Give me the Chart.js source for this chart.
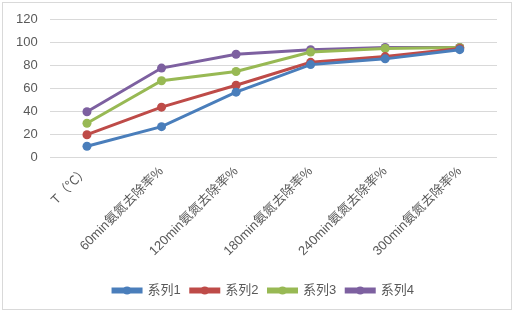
<!DOCTYPE html>
<html>
<head>
<meta charset="utf-8">
<script src="https://cdn.jsdelivr.net/npm/chart.js@4"></script>
<style>
  html, body { margin:0; padding:0; background:#fff; }
  .wrap { position:relative; width:516px; height:314px; }
  .frame { position:absolute; left:2px; top:2px; width:508px; height:306px; border:1px solid #d9d9d9; pointer-events:none; }
  canvas { position:absolute; left:0; top:0; }
</style>
</head>
<body>
<div class="wrap">
  <canvas id="chart" width="516" height="314"></canvas>
  <div class="frame"></div>
</div>
<script>
const categories = ['T（℃）','60min氨氮去除率%','120min氨氮去除率%','180min氨氮去除率%','240min氨氮去除率%','300min氨氮去除率%'];
const series1 = [10, 27, 57, 81, 86, 94];
const series2 = [20, 44, 63, 83, 88, 95];
const series3 = [30, 67, 75, 92, 95, 96];
const series4 = [40, 78, 90, 94, 96, 96];
const seriesNames = ['系列1','系列2','系列3','系列4'];
const colors = ['#4a7ebb','#be4b48','#98b954','#7d60a0'];

const fontFamily = '"Liberation Sans", "Noto Sans CJK SC", sans-serif';

function makeSet(i, data){
  return {
    label: seriesNames[i],
    data: data,
    borderColor: colors[i],
    backgroundColor: colors[i],
    borderWidth: 3,
    pointRadius: 4.5,
    pointHoverRadius: 4.5,
    pointBorderWidth: 0,
    tension: 0
  };
}

// nudge the legend a bit to the right, centred under the whole frame
const legendShift = {
  id: 'legendShift',
  afterLayout(chart){
    const lg = chart.legend;
    if(!lg) return;
    lg.left += 13;
    lg.right += 13;
  }
};

// draws a dot on top of the thin legend bar, like Excel's line+marker legend
const legendDots = {
  id: 'legendDots',
  afterDraw(chart){
    const lg = chart.legend;
    if(!lg || !lg.legendHitBoxes) return;
    const ctx = chart.ctx;
    const bw = chart.options.plugins.legend.labels.boxWidth;
    lg.legendHitBoxes.forEach((box, i) => {
      ctx.save();
      ctx.fillStyle = colors[i];
      ctx.beginPath();
      ctx.arc(box.left + bw / 2, box.top + box.height / 2, 4, 0, Math.PI * 2);
      ctx.fill();
      ctx.restore();
    });
  }
};

new Chart(document.getElementById('chart'), {
  type: 'line',
  data: {
    labels: categories,
    datasets: [makeSet(0, series1), makeSet(1, series2), makeSet(2, series3), makeSet(3, series4)]
  },
  options: {
    responsive: false,
    animation: false,
    layout: { padding: { left: 4, right: 19, top: 10, bottom: 7 } },
    plugins: {
      tooltip: { enabled: false },
      legend: {
        position: 'bottom',
        labels: {
          boxWidth: 28,
          boxHeight: 3,
          padding: 10,
          color: '#595959',
          font: { family: fontFamily, size: 13 }
        }
      }
    },
    scales: {
      x: {
        offset: true,
        grid: { display: false, drawTicks: false },
        border: { display: false },
        afterFit(scale){
          // rotated first label should not push the plot to the right
          scale.paddingLeft = 0;
          scale.paddingRight = 0;
          scale.height += 9;
        },
        ticks: {
          color: '#595959',
          minRotation: 45,
          maxRotation: 45,
          padding: 6,
          font: { family: fontFamily, size: 13 }
        }
      },
      y: {
        min: 0,
        max: 120,
        grid: { color: '#d9d9d9', drawTicks: false },
        border: { display: false },
        ticks: {
          stepSize: 20,
          color: '#595959',
          padding: 12,
          font: { family: fontFamily, size: 13 }
        }
      }
    }
  },
  plugins: [legendShift, legendDots]
});
</script>
</body>
</html>
